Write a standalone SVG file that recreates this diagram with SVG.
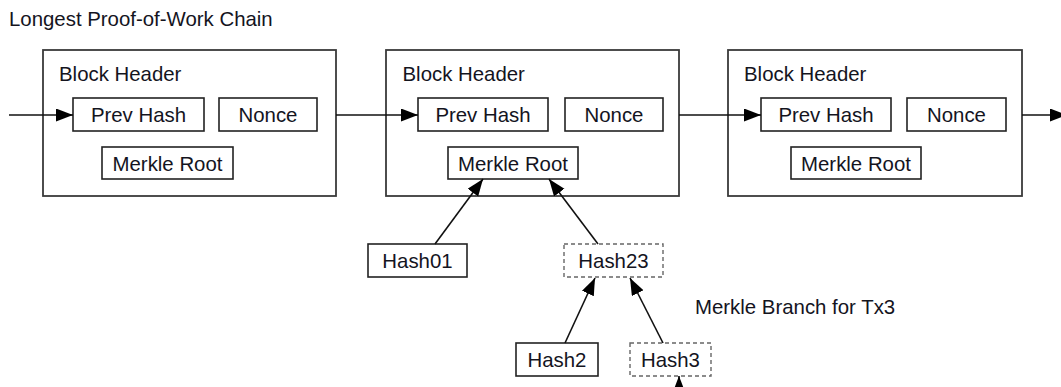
<svg xmlns="http://www.w3.org/2000/svg" width="1061" height="387" viewBox="0 0 1061 387">
<style>
text{font-family:"Liberation Sans",Arial,sans-serif;font-size:20.4px;fill:#14141e}
.c{text-anchor:middle}
.blk{fill:none;stroke:#3a3a3a;stroke-width:1.8}
.box{fill:#fff;stroke:#222;stroke-width:1.6}
.dash{fill:#fff;stroke:#666;stroke-width:1.4;stroke-dasharray:4 3}
.con{fill:none;stroke:#111;stroke-width:1.6;marker-end:url(#ah)}
</style>
<defs>
<marker id="ah" markerUnits="userSpaceOnUse" markerWidth="18" markerHeight="14" refX="17" refY="6.5" orient="auto">
<path d="M0,0 L17,6.5 L0,13 z" fill="#000"/>
</marker>
</defs>
<rect width="1061" height="387" fill="#fff"/>
<text x="9" y="26">Longest Proof-of-Work Chain</text>

<g id="block1">
<rect class="blk" x="43" y="50" width="293" height="146"/>
<text x="59" y="80.5">Block Header</text>
<g id="prevhash1"><rect class="box" x="73" y="98" width="131" height="33"/><text class="c" x="138.5" y="121.7">Prev Hash</text></g>
<g id="nonce1"><rect class="box" x="219" y="98" width="98" height="33"/><text class="c" x="268" y="121.7">Nonce</text></g>
<g id="merkle1"><rect class="box" x="102" y="147" width="131" height="32"/><text class="c" x="167.5" y="170.5">Merkle Root</text></g>
</g>

<g id="block2">
<rect class="blk" x="386" y="50" width="293" height="146"/>
<text x="402.5" y="80.5">Block Header</text>
<g id="prevhash2"><rect class="box" x="418" y="98" width="130" height="33"/><text class="c" x="483" y="121.7">Prev Hash</text></g>
<g id="nonce2"><rect class="box" x="565" y="98" width="98" height="33"/><text class="c" x="614" y="121.7">Nonce</text></g>
<g id="merkle2"><rect class="box" x="448" y="147" width="130" height="32"/><text class="c" x="513" y="170.5">Merkle Root</text></g>
</g>

<g id="block3">
<rect class="blk" x="728" y="50" width="294" height="146"/>
<text x="744" y="80.5">Block Header</text>
<g id="prevhash3"><rect class="box" x="761" y="98" width="130" height="33"/><text class="c" x="826" y="121.7">Prev Hash</text></g>
<g id="nonce3"><rect class="box" x="907" y="98" width="99" height="33"/><text class="c" x="956.5" y="121.7">Nonce</text></g>
<g id="merkle3"><rect class="box" x="791" y="147" width="130" height="32"/><text class="c" x="856" y="170.5">Merkle Root</text></g>
</g>

<g id="hash01"><rect class="box" x="368" y="244" width="99" height="33"/><text class="c" x="417.5" y="268">Hash01</text></g>
<g id="hash23"><rect class="dash" x="564" y="244" width="99" height="33"/><text class="c" x="613.5" y="268">Hash23</text></g>
<g id="hash2"><rect class="box" x="516" y="343" width="82" height="33"/><text class="c" x="557" y="367">Hash2</text></g>
<g id="hash3"><rect class="dash" x="630" y="343" width="81" height="33"/><text class="c" x="670.5" y="367">Hash3</text></g>

<text x="695" y="314">Merkle Branch for Tx3</text>

<g id="connectors">
<line class="con" x1="9" y1="115" x2="73" y2="115"/>
<line class="con" x1="336" y1="115" x2="418" y2="115"/>
<line class="con" x1="679" y1="115" x2="761" y2="115"/>
<line class="con" x1="1022" y1="115" x2="1067" y2="115"/>
<line class="con" x1="435" y1="244" x2="483" y2="179"/>
<line class="con" x1="598" y1="244" x2="549" y2="179"/>
<line class="con" x1="565" y1="343" x2="595" y2="278"/>
<line class="con" x1="663" y1="343" x2="630" y2="278"/>
<line class="con" x1="679" y1="400" x2="679" y2="376"/>
</g>
</svg>
